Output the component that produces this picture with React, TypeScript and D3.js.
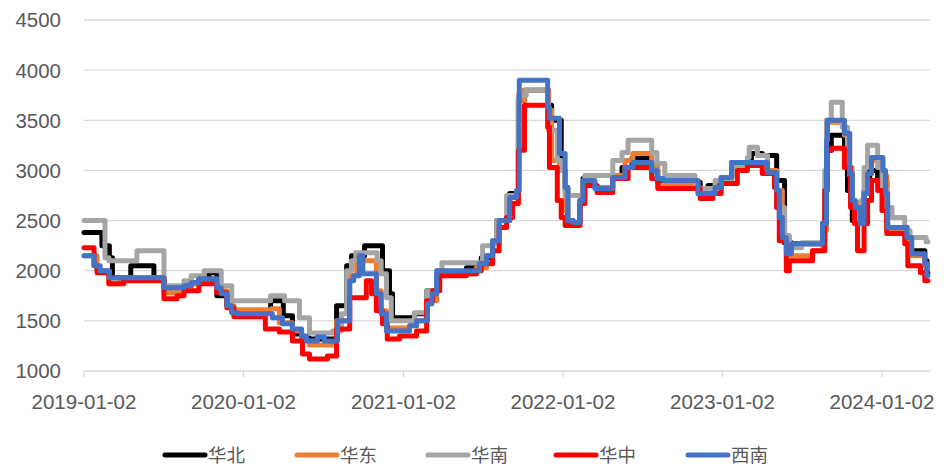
import React from "react";
import * as d3 from "d3";

type Pt = [string, number];

const seriesNames = ["华北", "华东", "华南", "华中", "西南"];
const yTickValues = [1000, 1500, 2000, 2500, 3000, 3500, 4000, 4500];
const xTickDates = ["2019-01-02", "2020-01-02", "2021-01-02", "2022-01-02", "2023-01-02", "2024-01-02"];

// step change points: [date, value]
const huabei: Pt[] = [
  ["2019-01-02", 2380], ["2019-02-12", 2250], ["2019-03-01", 2130], ["2019-03-08", 1930],
  ["2019-04-19", 2050], ["2019-06-11", 1930], ["2019-07-04", 1830], ["2019-08-19", 1850],
  ["2019-09-04", 1880], ["2019-09-22", 1920], ["2019-10-15", 1980], ["2019-11-02", 1750],
  ["2019-11-25", 1650], ["2019-12-06", 1600], ["2020-03-04", 1700], ["2020-04-02", 1550],
  ["2020-04-23", 1370], ["2020-05-14", 1330], ["2020-06-01", 1320], ["2020-08-02", 1650],
  ["2020-08-25", 2050], ["2020-09-05", 2150], ["2020-10-05", 2250], ["2020-11-15", 2000],
  ["2020-12-01", 1770], ["2020-12-08", 1530], ["2021-01-27", 1570], ["2021-02-24", 1800],
  ["2021-03-19", 1970], ["2021-05-26", 2030], ["2021-06-29", 2130], ["2021-07-25", 2280],
  ["2021-08-03", 2500], ["2021-09-02", 2770], ["2021-09-22", 3700], ["2021-10-06", 3800],
  ["2021-11-30", 3650], ["2021-12-07", 3500], ["2021-12-29", 3000], ["2022-01-07", 2830],
  ["2022-01-13", 2500], ["2022-01-25", 2480], ["2022-02-10", 2700], ["2022-02-17", 2920],
  ["2022-02-28", 2950], ["2022-05-17", 3030], ["2022-06-09", 3120], ["2022-07-24", 3000],
  ["2022-08-07", 2880], ["2022-11-12", 2770], ["2022-11-30", 2850], ["2022-12-30", 2930],
  ["2023-01-23", 3080], ["2023-03-09", 3170], ["2023-04-03", 3150], ["2023-05-06", 2900],
  ["2023-05-24", 2280], ["2023-06-09", 2270], ["2023-08-19", 2470], ["2023-08-28", 3200],
  ["2023-09-08", 3350], ["2023-10-08", 3200], ["2023-10-15", 2800], ["2023-10-26", 2500],
  ["2023-11-22", 2800], ["2023-12-05", 3000], ["2023-12-23", 2900], ["2024-01-13", 2470],
  ["2024-01-15", 2430], ["2024-02-28", 2330], ["2024-03-06", 2200], ["2024-04-09", 2100],
  ["2024-04-14", 1980], ["2024-04-16", 1980],
];

const huadong: Pt[] = [
  ["2019-01-02", 2150], ["2019-02-01", 2000], ["2019-02-28", 1870], ["2019-03-25", 1930],
  ["2019-07-04", 1780], ["2019-08-19", 1830], ["2019-09-04", 1870], ["2019-09-22", 1900],
  ["2019-11-02", 1800], ["2019-11-25", 1650], ["2019-12-11", 1610], ["2020-03-06", 1620],
  ["2020-03-24", 1480], ["2020-04-23", 1400], ["2020-05-14", 1300], ["2020-06-01", 1260],
  ["2020-08-02", 1500], ["2020-09-01", 1950], ["2020-09-17", 2100], ["2020-11-01", 1800],
  ["2020-11-12", 1600], ["2020-11-24", 1430], ["2021-01-16", 1450], ["2021-02-01", 1500],
  ["2021-02-26", 1700], ["2021-03-19", 1970], ["2021-06-18", 2030], ["2021-07-11", 2150],
  ["2021-07-25", 2300], ["2021-08-09", 2500], ["2021-09-02", 2730], ["2021-09-22", 3700],
  ["2021-10-06", 3800], ["2021-11-30", 3600], ["2021-12-07", 3100], ["2021-12-25", 3000],
  ["2022-01-07", 2600], ["2022-01-13", 2480], ["2022-02-10", 2700], ["2022-02-17", 2880],
  ["2022-03-16", 2830], ["2022-04-26", 2950], ["2022-05-24", 3100], ["2022-06-11", 3170],
  ["2022-07-24", 3050], ["2022-08-07", 2850], ["2022-11-07", 2770], ["2022-12-16", 2830],
  ["2022-12-30", 2930], ["2023-01-23", 3080], ["2023-04-15", 3000], ["2023-05-06", 2800],
  ["2023-05-19", 2330], ["2023-06-04", 2150], ["2023-07-27", 2200], ["2023-08-19", 2400],
  ["2023-08-28", 3300], ["2023-08-30", 3480], ["2023-10-08", 3350], ["2023-10-20", 2950],
  ["2023-10-26", 2680], ["2023-11-13", 2470], ["2023-11-22", 2770], ["2023-11-30", 2970],
  ["2023-12-09", 3100], ["2024-01-04", 2950], ["2024-01-13", 2400], ["2024-02-28", 2300],
  ["2024-03-10", 2150], ["2024-04-09", 2050], ["2024-04-16", 2050],
];

const huanan: Pt[] = [
  ["2019-01-02", 2500], ["2019-02-19", 2130], ["2019-02-28", 2100], ["2019-05-03", 2200],
  ["2019-07-04", 1850], ["2019-08-19", 1900], ["2019-09-04", 1950], ["2019-10-04", 2000],
  ["2019-11-12", 1850], ["2019-12-06", 1700], ["2020-03-04", 1750], ["2020-04-05", 1700],
  ["2020-05-09", 1530], ["2020-06-01", 1380], ["2020-07-24", 1400], ["2020-08-13", 1570],
  ["2020-08-25", 2000], ["2020-09-05", 2100], ["2020-09-15", 2180], ["2020-11-03", 2100],
  ["2020-11-12", 1970], ["2020-11-24", 1730], ["2020-12-05", 1500], ["2021-01-27", 1580],
  ["2021-02-24", 1800], ["2021-03-19", 2000], ["2021-03-31", 2080], ["2021-07-02", 2250],
  ["2021-07-25", 2270], ["2021-08-03", 2500], ["2021-08-26", 2750], ["2021-09-18", 2800],
  ["2021-09-22", 3750], ["2021-10-10", 3800], ["2021-11-28", 3650], ["2021-11-30", 3400],
  ["2021-12-20", 3100], ["2021-12-29", 3000], ["2022-01-07", 2750], ["2022-02-21", 2950],
  ["2022-04-26", 3100], ["2022-05-17", 3180], ["2022-05-31", 3300], ["2022-07-24", 3180],
  ["2022-08-05", 3070], ["2022-08-23", 2950], ["2022-10-31", 2880], ["2022-11-07", 2820],
  ["2022-12-16", 2900], ["2023-01-23", 3030], ["2023-02-28", 3130], ["2023-03-04", 3230],
  ["2023-03-23", 3150], ["2023-04-15", 2980], ["2023-05-06", 2630], ["2023-05-24", 2350],
  ["2023-06-04", 2230], ["2023-07-02", 2280], ["2023-08-24", 3000], ["2023-08-28", 3500],
  ["2023-09-08", 3680], ["2023-10-03", 3430], ["2023-10-15", 3030], ["2023-10-26", 2630],
  ["2023-11-05", 2470], ["2023-11-15", 2700], ["2023-11-22", 3030], ["2023-11-30", 3250],
  ["2023-12-23", 3030], ["2024-01-02", 2800], ["2024-01-13", 2630], ["2024-01-25", 2530],
  ["2024-02-23", 2400], ["2024-03-06", 2330], ["2024-04-12", 2290], ["2024-04-16", 2290],
];

const huazhong: Pt[] = [
  ["2019-01-02", 2230], ["2019-01-25", 2050], ["2019-02-01", 1980], ["2019-02-28", 1870],
  ["2019-04-03", 1900], ["2019-07-04", 1720], ["2019-08-03", 1750], ["2019-08-19", 1800],
  ["2019-09-22", 1870], ["2019-11-02", 1780], ["2019-11-25", 1630], ["2019-12-11", 1540],
  ["2020-02-21", 1420], ["2020-03-24", 1390], ["2020-04-23", 1300], ["2020-05-16", 1170],
  ["2020-06-01", 1120], ["2020-07-12", 1150], ["2020-08-02", 1420], ["2020-09-01", 1730],
  ["2020-10-09", 1900], ["2020-10-21", 1770], ["2020-11-01", 1600], ["2020-11-15", 1470],
  ["2020-11-26", 1320], ["2020-12-24", 1350], ["2021-02-01", 1400], ["2021-02-24", 1700],
  ["2021-03-10", 1800], ["2021-03-26", 1950], ["2021-05-26", 1970], ["2021-06-18", 2000],
  ["2021-06-29", 2070], ["2021-07-25", 2200], ["2021-08-09", 2430], ["2021-08-26", 2530],
  ["2021-09-09", 2670], ["2021-09-22", 3200], ["2021-10-06", 3650], ["2021-11-28", 3430],
  ["2021-12-02", 3030], ["2021-12-20", 2700], ["2021-12-29", 2530], ["2022-01-07", 2450],
  ["2022-02-10", 2670], ["2022-02-21", 2850], ["2022-03-21", 2780], ["2022-04-26", 2920],
  ["2022-05-31", 3030], ["2022-07-24", 2920], ["2022-08-07", 2820], ["2022-11-12", 2720],
  ["2022-12-11", 2770], ["2022-12-30", 2870], ["2023-02-05", 3000], ["2023-02-28", 3050],
  ["2023-04-03", 2970], ["2023-05-01", 2830], ["2023-05-06", 2630], ["2023-05-12", 2300],
  ["2023-05-28", 2000], ["2023-06-04", 2100], ["2023-07-27", 2200], ["2023-08-24", 2800],
  ["2023-08-30", 3200], ["2023-09-08", 3220], ["2023-10-08", 3030], ["2023-10-22", 2630],
  ["2023-10-31", 2470], ["2023-11-07", 2200], ["2023-11-22", 2470], ["2023-11-30", 2700],
  ["2023-12-09", 2900], ["2023-12-23", 2800], ["2024-01-02", 2600], ["2024-01-13", 2370],
  ["2024-02-23", 2270], ["2024-03-01", 2050], ["2024-03-30", 1980], ["2024-04-09", 1900],
  ["2024-04-16", 1900],
];

const xinan: Pt[] = [
  ["2019-01-02", 2150], ["2019-01-25", 2050], ["2019-02-08", 2000], ["2019-03-01", 1930],
  ["2019-07-04", 1830], ["2019-08-19", 1850], ["2019-09-04", 1880], ["2019-09-22", 1920],
  ["2019-11-02", 1830], ["2019-11-12", 1770], ["2019-11-25", 1650], ["2019-12-06", 1580],
  ["2019-12-20", 1570], ["2020-03-08", 1530], ["2020-03-31", 1470], ["2020-04-23", 1420],
  ["2020-05-14", 1350], ["2020-05-25", 1300], ["2020-06-19", 1340], ["2020-07-05", 1300],
  ["2020-08-04", 1500], ["2020-09-01", 1900], ["2020-09-10", 1950], ["2020-09-23", 2150],
  ["2020-10-01", 1970], ["2020-11-01", 1770], ["2020-11-12", 1570], ["2020-11-24", 1400],
  ["2021-01-16", 1450], ["2021-02-01", 1500], ["2021-02-26", 1670], ["2021-03-08", 1770],
  ["2021-03-19", 2000], ["2021-06-25", 2070], ["2021-07-11", 2150], ["2021-07-25", 2300],
  ["2021-08-09", 2500], ["2021-09-02", 2730], ["2021-09-18", 2800], ["2021-09-24", 3900],
  ["2021-11-28", 3630], ["2021-12-02", 3520], ["2021-12-25", 3170], ["2022-01-07", 2830],
  ["2022-01-13", 2500], ["2022-01-25", 2480], ["2022-02-10", 2700], ["2022-02-17", 2900],
  ["2022-03-16", 2820], ["2022-04-26", 2930], ["2022-05-24", 3030], ["2022-06-11", 3080],
  ["2022-07-24", 3000], ["2022-08-05", 2920], ["2022-08-19", 2900], ["2022-11-07", 2770],
  ["2022-12-16", 2830], ["2022-12-30", 2930], ["2023-01-23", 3080], ["2023-04-15", 2980],
  ["2023-05-06", 2800], ["2023-05-12", 2530], ["2023-05-19", 2330], ["2023-05-28", 2170],
  ["2023-06-09", 2270], ["2023-08-19", 2470], ["2023-08-28", 3300], ["2023-08-30", 3500],
  ["2023-10-08", 3370], ["2023-10-20", 2970], ["2023-10-26", 2700], ["2023-11-02", 2630],
  ["2023-11-13", 2470], ["2023-11-22", 2770], ["2023-11-30", 2970], ["2023-12-09", 3130],
  ["2024-01-04", 3000], ["2024-01-10", 2770], ["2024-01-15", 2430], ["2024-02-28", 2330],
  ["2024-03-10", 2170], ["2024-04-09", 2070], ["2024-04-14", 1950], ["2024-04-16", 1950],
];

const seriesData = [huabei, huadong, huanan, huazhong, xinan];
const palette = ["#000000", "#ED7D31", "#A5A5A5", "#FF0000", "#4472C4"];

const W = 944;
const H = 466;
const parse = d3.timeParse("%Y-%m-%d");

export default function App() {
  const x = d3.scaleTime()
    .domain([parse("2019-01-02") as Date, parse("2024-01-02") as Date])
    .range([84, 882]);
  const y = d3.scaleLinear().domain([1000, 4500]).range([371, 20]);
  const line = d3.line<Pt>()
    .x((d) => x(parse(d[0]) as Date))
    .y((d) => y(d[1]))
    .curve(d3.curveStepAfter);

  const font = "'Liberation Sans', Arial, sans-serif";
  const legendX = [165, 297, 428, 556, 688];

  return (
    <svg width={W} height={H} style={{ position: "absolute", left: 0, top: 0, background: "#fff" }}>
      <rect x={0} y={0} width={W} height={H} fill="#fff" />
      {yTickValues.map((v) => (
        <g key={v}>
          {v > 1000 && (
            <line x1={84} x2={930} y1={y(v)} y2={y(v)} stroke="#d9d9d9" strokeWidth={1.3} />
          )}
          <text x={61} y={y(v)} dy="0.36em" textAnchor="end" fontFamily={font} fontSize={20.5} fill="#595959">
            {v}
          </text>
        </g>
      ))}
      <line x1={84} x2={930} y1={371} y2={371} stroke="#d9d9d9" strokeWidth={1.3} />
      {xTickDates.map((d) => {
        const px = x(parse(d) as Date);
        return (
          <g key={d}>
            <line x1={px} x2={px} y1={371} y2={377} stroke="#d9d9d9" strokeWidth={1.3} />
            <text x={px} y={409} textAnchor="middle" fontFamily={font} fontSize={20.5} fill="#595959">
              {d}
            </text>
          </g>
        );
      })}
      {seriesData.map((s, i) => (
        <path key={i} d={line(s) || ""} fill="none" stroke={palette[i]} strokeWidth={5}
          strokeLinejoin="round" strokeLinecap="round" />
      ))}
      {seriesNames.map((n, i) => (
        <g key={n}>
          <line x1={legendX[i]} x2={legendX[i] + 40} y1={455} y2={455} stroke={palette[i]} strokeWidth={5}
            strokeLinecap="round" />
          <text x={legendX[i] + 43} y={455} dy="0.36em" fontFamily="'Noto Sans CJK SC', sans-serif"
            fontSize={18.5} fill="#595959">
            {n}
          </text>
        </g>
      ))}
    </svg>
  );
}
